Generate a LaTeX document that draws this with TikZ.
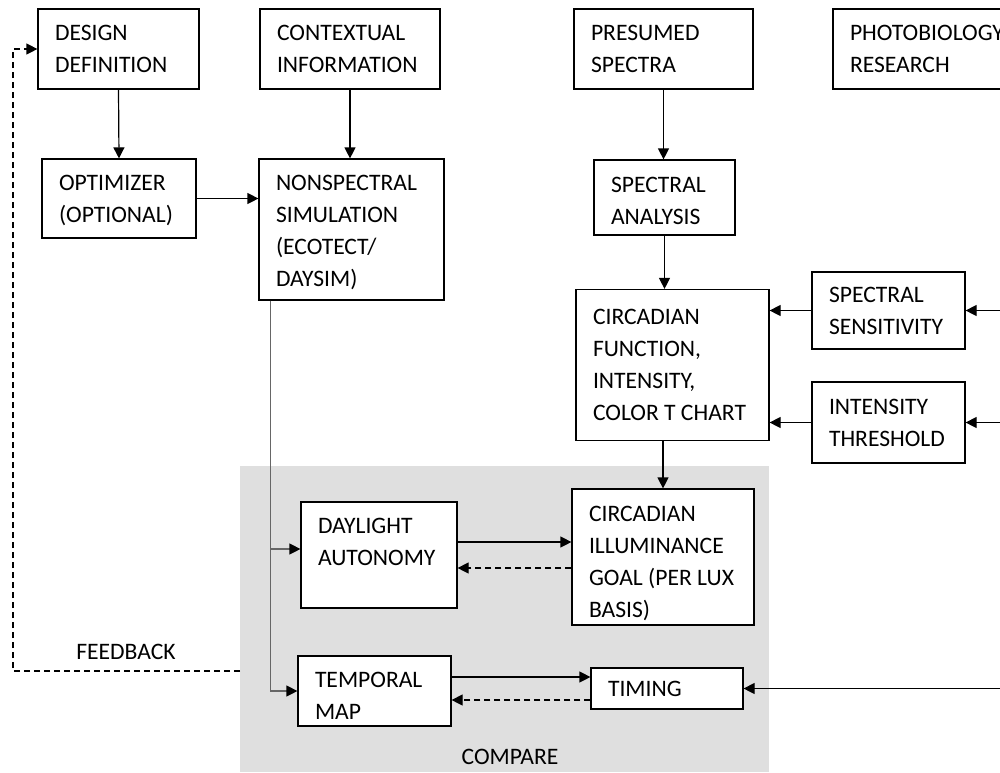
\documentclass[tikz,border=0pt]{standalone}
\usepackage{fontspec}
\setmainfont{Carlito}
\usetikzlibrary{arrows.meta}

\begin{document}
\begin{tikzpicture}[x=0.5pt, y=-0.5pt,
    box/.style={draw, line width=0.6pt, fill=white, align=flush left, inner xsep=8.5pt, inner ysep=2pt,
        font=\fontsize{11.8}{16}\selectfont},
    sz/.style n args={3}{minimum width=#1pt, text width=#2pt, minimum height=#3pt},
    lbl/.style={font=\fontsize{11.8}{16}\selectfont, inner sep=0pt},
    arr/.style={-{Triangle[length=5.5pt,width=5.5pt,color=black]}, line width=0.6pt},
    back/.style={arr, dash pattern=on 3pt off 2pt}]
    \useasboundingbox (0,0) rectangle (1000,772);
    \clip (0,0) rectangle (1000,772);

    % compare area
    \node (cmp) [fill=gray!25, minimum width=264.5pt, minimum height=153pt, inner sep=0pt, anchor=north west] at (240,466) {};
    \node (cmplbl) [lbl] at (510,757) {COMPARE};
    \node (fblbl) [lbl] at (126,652) {FEEDBACK};

    % top row
    \node (design)   [box, sz={80.5}{63.5}{40}] at (118.5,49) {DESIGN\\DEFINITION};
    \node (context)  [box, sz={90}{73}{40}]     at (350,49)   {CONTEXTUAL\\INFORMATION};
    \node (presumed) [box, sz={89.5}{72.5}{40}] at (663.5,49) {PRESUMED\\SPECTRA};
    \node (photo)    [box, sz={100}{83}{40}]    at (933,49)   {PHOTOBIOLOGY\\RESEARCH};

    % middle
    \node (optimizer) [box, sz={77}{60}{39.5}, text depth=16pt] at (119,198.5) {OPTIMIZER\\(OPTIONAL)};
    \node (nonspec)   [box, sz={92.5}{75.5}{70.5}, text depth=47pt] at (351.5,229.5) {NONSPECTRAL\\SIMULATION\\(ECOTECT/\\DAYSIM)};
    \node (specan)    [box, sz={70.5}{53.5}{37.5}, text depth=13pt] at (664.5,197.5) {SPECTRAL\\ANALYSIS};
    \node (circfunc)  [box, sz={96.5}{79.5}{75.5}] at (672.5,365) {CIRCADIAN\\FUNCTION,\\INTENSITY,\\COLOR~T~CHART};
    \node (sens)      [box, sz={76.5}{59.5}{38.5}] at (888.5,310.5) {SPECTRAL\\SENSITIVITY};
    \node (thresh)    [box, sz={76.5}{59.5}{40.5}] at (888.5,422.5) {INTENSITY\\THRESHOLD};

    % compare boxes
    \node (daylight) [box, sz={78}{61}{53}, text depth=29pt] at (379,555) {DAYLIGHT\\AUTONOMY};
    \node (goal)     [box, sz={91}{74}{68}, text depth=43pt] at (663,557) {CIRCADIAN\\ILLUMINANCE\\GOAL~(PER~LUX\\BASIS)};
    \node (temporal) [box, sz={76.5}{59.5}{35}, text depth=11pt] at (374.5,691) {TEMPORAL\\MAP};
    \node (timing)   [box, sz={76}{59}{20.5}, text depth=0pt] at (667,688.5) {TIMING};

    \coordinate (rim) at (1010,0);
    \coordinate (fbout) at (240,671);

    \draw [arr] (design.south) -- (optimizer.north);
    \draw [arr] (context.south) -- (context.south |- nonspec.north);
    \draw [arr] (presumed.south) -- (presumed.south |- specan.north);
    \draw [arr] (specan.south) -- (specan.south |- circfunc.north);
    \draw [arr] (optimizer.east) -- (optimizer.east -| nonspec.west);
    \draw [arr] (sens.west) -- (sens.west -| circfunc.east);
    \draw [arr] (thresh.west) -- (thresh.west -| circfunc.east);
    \draw [arr] (sens.east -| rim) -- (sens.east);
    \draw [arr] (thresh.east -| rim) -- (thresh.east);
    \draw [arr] (timing.east -| rim) -- (timing.east);
    \draw [arr] (goal.north |- circfunc.south) -- (goal.north);

    % trunk from the simulation
    \draw [arr, black!60] ([xshift=6pt]nonspec.south west) |- ([yshift=3pt]daylight.west);
    \draw [arr, black!60] ([xshift=6pt]nonspec.south west) |- (temporal.west);

    \draw [arr]  ([yshift=6.5pt]daylight.east) -- ([yshift=6.5pt]daylight.east -| goal.west);
    \draw [back] ([yshift=-6.5pt]daylight.east -| goal.west) -- ([yshift=-6.5pt]daylight.east);
    \draw [arr]  ([yshift=7pt]temporal.east) -- ([yshift=7pt]temporal.east -| timing.west);
    \draw [back] ([yshift=-4.5pt]temporal.east -| timing.west) -- ([yshift=-4.5pt]temporal.east);

    \draw [back] (fbout) -- (13,671) |- (design.west);
\end{tikzpicture}
\end{document}
